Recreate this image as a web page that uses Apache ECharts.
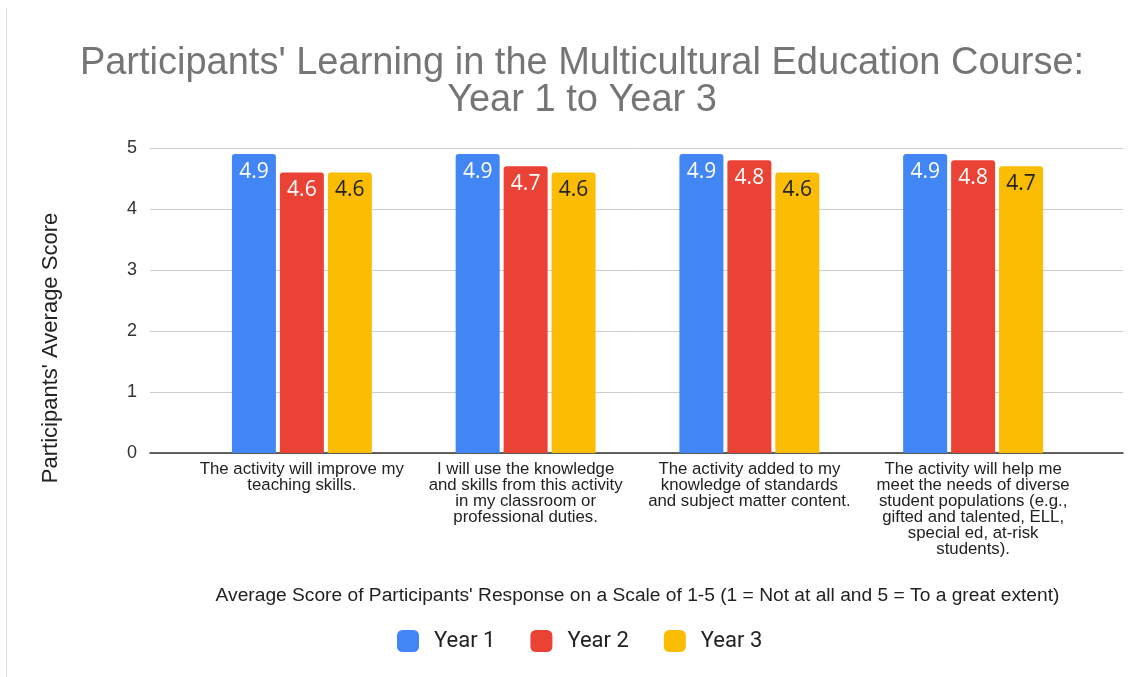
<!DOCTYPE html>
<html>
<head>
<meta charset="utf-8">
<script src="https://cdn.jsdelivr.net/npm/echarts@6/dist/echarts.min.js"></script>
<style>
html,body{margin:0;padding:0;background:#fff;}
#chart{width:1145px;height:677px;}
</style>
</head>
<body>
<div id="chart"></div>
<script>
const categories = [
  "The activity will improve my\nteaching skills.",
  "I will use the knowledge\nand skills from this activity\nin my classroom or\nprofessional duties.",
  "The activity added to my\nknowledge of standards\nand subject matter content.",
  "The activity will help me\nmeet the needs of diverse\nstudent populations (e.g.,\ngifted and talented, ELL,\nspecial ed, at-risk\nstudents)."
];
const year1 = [4.9, 4.9, 4.9, 4.9];
const year2 = [4.6, 4.7, 4.8, 4.8];
const year3 = [4.6, 4.6, 4.6, 4.7];
const seriesNames = ["Year 1", "Year 2", "Year 3"];
const yTicks = [0, 1, 2, 3, 4, 5];
const colors = ["#4285F4", "#EA4335", "#FBBC04"];
const labelColors = ["#ffffff", "#ffffff", "#222222"];
const seriesData = [year1, year2, year3];

const chart = echarts.init(document.getElementById('chart'));
const arial = "'Liberation Sans', Arial, sans-serif";

const option = {
  animation: false,
  backgroundColor: '#fff',
  title: {
    text: "Participants' Learning in the Multicultural Education Course:\nYear 1 to Year 3",
    left: 577,
    textAlign: 'center',
    top: 40,
    textStyle: {
      fontFamily: arial,
      fontSize: 38,
      fontWeight: 'normal',
      color: '#757575',
      lineHeight: 37
    }
  },
  graphic: [
    {
      type: 'line',
      shape: {x1: 6.5, y1: 8, x2: 6.5, y2: 677},
      style: {stroke: '#dddddd', lineWidth: 1}
    },
    {
      type: 'text',
      x: 51, y: 348,
      rotation: Math.PI / 2,
      style: {
        text: "Participants' Average Score",
        fontFamily: arial, fontSize: 22, fill: '#222',
        align: 'center', verticalAlign: 'middle'
      }
    }
  ],
  legend: {
    data: seriesNames,
    top: 625,
    left: 392,
    icon: 'roundRect',
    itemWidth: 22,
    itemHeight: 22,
    itemGap: 35,
    textStyle: {fontFamily: 'Roboto, sans-serif', fontSize: 22, color: '#222', padding: [0, 0, 0, 10]}
  },
  grid: [
    {left: 150, right: 22, top: 148, bottom: 224},
    {left: 190, right: 60, top: 148, bottom: 224}
  ],
  xAxis: [
    {
      gridIndex: 0, type: 'value', min: 0, max: 1,
      axisLine: {show: true, lineStyle: {color: '#333', width: 1.5}},
      axisTick: {show: false}, axisLabel: {show: false}, splitLine: {show: false}
    },
    {
      gridIndex: 1, type: 'category', data: categories,
      axisLine: {show: false}, axisTick: {show: false},
      axisLabel: {
        interval: 0, margin: 8, fontFamily: arial, fontSize: 16.8, color: '#222',
        lineHeight: 16, align: 'center', verticalAlign: 'top'
      },
      name: "Average Score of Participants' Response on a Scale of 1-5 (1 = Not at all and 5 = To a great extent)",
      nameLocation: 'middle',
      nameGap: 133,
      nameTextStyle: {fontFamily: arial, fontSize: 19.2, color: '#222'}
    }
  ],
  yAxis: [
    {
      gridIndex: 0, type: 'value', min: yTicks[0], max: yTicks[yTicks.length - 1], interval: 1,
      axisLine: {show: false}, axisTick: {show: false},
      axisLabel: {margin: 13, fontFamily: arial, fontSize: 18, color: '#333'},
      splitLine: {lineStyle: {color: '#cccccc', width: 1}}
    },
    {
      gridIndex: 1, type: 'value', min: yTicks[0], max: yTicks[yTicks.length - 1], interval: 1, show: false
    }
  ],
  series: seriesNames.map((name, i) => ({
    name: name,
    type: 'bar',
    xAxisIndex: 1,
    yAxisIndex: 1,
    data: seriesData[i],
    barWidth: 44,
    barGap: '9%',
    itemStyle: {color: colors[i], borderRadius: [3, 3, 0, 0]},
    label: {
      show: true,
      position: 'insideTop',
      distance: 7,
      fontFamily: "'Open Sans', sans-serif",
      fontSize: 21,
      color: labelColors[i]
    }
  }))
};
chart.setOption(option);
</script>
</body>
</html>
